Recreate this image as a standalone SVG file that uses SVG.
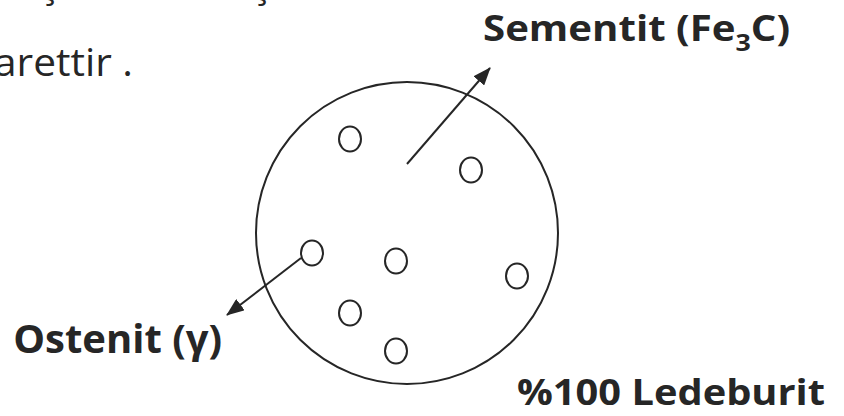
<svg xmlns="http://www.w3.org/2000/svg" width="844" height="416" viewBox="0 0 844 416">
  <style>
    .lbl { font-family: "Open Sans", "Liberation Sans", sans-serif; font-weight: bold; font-size: 36px; fill: #262626; }
    .body { font-family: "Open Sans", "Liberation Sans", sans-serif; font-size: 38px; fill: #262626; }
    .ln { fill: none; stroke: #262626; stroke-width: 2; }
    .grain { fill: #ffffff; stroke: #262626; stroke-width: 2; }
  </style>
  <defs>
    <marker id="arrowhead" viewBox="0 0 18 14" refX="17" refY="7" markerWidth="18" markerHeight="14" markerUnits="userSpaceOnUse" orient="auto">
      <path d="M0,0 L18,7 L0,14 z" fill="#262626"/>
    </marker>
  </defs>
  <rect width="844" height="416" fill="#ffffff"/>

  <text class="body" x="41" y="-3">ş</text>
  <text class="body" x="253" y="-3">ş</text>
  <text class="body" x="-6" y="76" textLength="139" lengthAdjust="spacingAndGlyphs">arettir .</text>

  <g id="ledeburit">
    <circle class="ln" cx="407" cy="233" r="151"/>
    <ellipse class="grain" cx="350" cy="139" rx="11" ry="12.5"/>
    <ellipse class="grain" cx="471" cy="170" rx="11" ry="12.5"/>
    <ellipse class="grain" cx="312" cy="253" rx="11" ry="12.5"/>
    <ellipse class="grain" cx="396" cy="261" rx="11" ry="12.5"/>
    <ellipse class="grain" cx="517" cy="276" rx="11" ry="12.5"/>
    <ellipse class="grain" cx="350" cy="313" rx="11" ry="12.5"/>
    <ellipse class="grain" cx="396" cy="351" rx="11" ry="12.5"/>
  </g>

  <g id="connectors">
    <line class="ln" x1="407" y1="164" x2="490" y2="68" marker-end="url(#arrowhead)"/>
    <line class="ln" x1="301" y1="258" x2="227" y2="315" marker-end="url(#arrowhead)"/>
  </g>

  <g id="sementit">
    <text class="lbl" x="483" y="41" textLength="307" lengthAdjust="spacingAndGlyphs">Sementit (Fe<tspan font-size="24" dy="10">3</tspan><tspan dy="-10">C)</tspan></text>
  </g>
  <g id="ostenit">
    <text class="lbl" x="222" y="353" text-anchor="end" style="font-size:40px">Ostenit (γ)</text>
  </g>
  <g id="label-ledeburit">
    <text class="lbl" x="517" y="405" textLength="308" lengthAdjust="spacingAndGlyphs">%100 Ledeburit</text>
  </g>
</svg>
